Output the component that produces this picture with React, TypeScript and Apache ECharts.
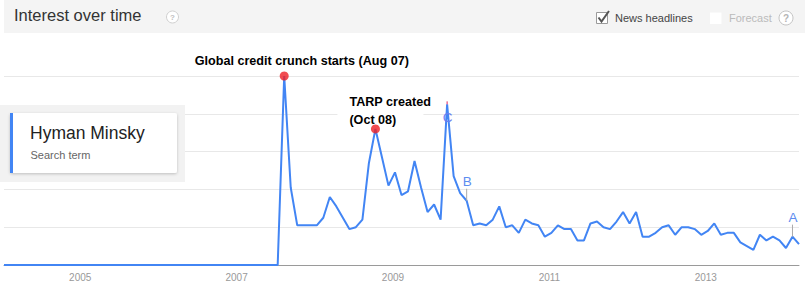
import React, { useEffect, useRef } from "react";
import * as echarts from "echarts";

// Monthly search interest, Jan 2004 .. Mar 2014
const startYear = 2004;
const zeroMonths = 43; // Jan 2004 .. Jul 2007 are all zero
const activeValues = [
  100, 41, 21, 21, 21, 21, 25, 36, 31, 25, 19, 20, 24, 54, 72, 57, 42, 49, 37, 39,
  55, 41, 28, 32, 24, 85, 47, 38, 34, 21, 22, 21, 24, 31, 20, 21, 17, 24, 22, 21,
  15, 17, 21, 19, 19, 13, 13, 22, 23, 20, 19, 23, 28, 22, 28, 15, 15, 17, 20, 21,
  16, 20, 20, 19, 16, 18, 22, 16, 17, 17, 12, 10, 8, 16, 13, 15, 13, 9, 15, 11,
];
const interestValues: number[] = [...new Array(zeroMonths).fill(0), ...activeValues];

const monthCategories: string[] = interestValues.map((_, i) => {
  const y = startYear + Math.floor(i / 12);
  const m = (i % 12) + 1;
  return `${y}-${m < 10 ? "0" + m : m}`;
});

const yearTickLabels = ["2005", "2007", "2009", "2011", "2013"];

// Event annotations (red dots)
const eventMonths = ["2007-08", "2008-10"];
const eventTexts = [["Global credit crunch starts (Aug 07)"], ["TARP created", "(Oct 08)"]];

// News headline flags
const flagMonths = ["2009-09", "2009-12", "2014-02"];
const flagLetters = ["C", "B", "A"];

const FONT = '"Liberation Sans", Arial, sans-serif';

export default function App() {
  const ref = useRef<HTMLDivElement>(null);

  useEffect(() => {
    document.body.style.margin = "0";
    if (!ref.current) return;
    const chart = echarts.init(ref.current, undefined, { renderer: "svg" });

    const eventIdx = eventMonths.map((m) => monthCategories.indexOf(m));
    const flagIdx = flagMonths.map((m) => monthCategories.indexOf(m));

    const option: any = {
      animation: false,
      backgroundColor: "#fff",
      grid: { left: 4, right: 6, top: 76, bottom: 19, containLabel: false },
      xAxis: {
        type: "category",
        data: monthCategories,
        boundaryGap: false,
        axisLine: { lineStyle: { color: "#9a9a9a", width: 1 } },
        axisTick: { show: false },
        splitLine: { show: false },
        axisLabel: {
          interval: (index: number, value: string) =>
            value.endsWith("-01") && yearTickLabels.includes(value.slice(0, 4)),
          formatter: (value: string) => value.slice(0, 4),
          color: "#999",
          fontSize: 10,
          fontFamily: FONT,
          margin: 7,
          padding: [0, 4, 0, 0],
        },
      },
      yAxis: {
        type: "value",
        min: 0,
        max: 100,
        interval: 20,
        axisLine: { show: false },
        axisTick: { show: false },
        axisLabel: { show: false },
        splitLine: { lineStyle: { color: "#e8e8e8", width: 1 } },
      },
      series: [
        {
          type: "line",
          data: interestValues,
          symbol: "none",
          lineStyle: { color: "#4285f4", width: 2 },
          z: 3,
        },
        {
          type: "scatter",
          data: eventIdx.map((i) => [i, interestValues[i]]),
          symbol: "circle",
          symbolSize: 9,
          itemStyle: { color: "#ee1f25" },
          z: 5,
        },
        {
          type: "custom",
          z: 6,
          data: eventIdx.map((i) => [i, interestValues[i]]),
          renderItem: (params: any, api: any) => {
            const p = api.coord([api.value(0), api.value(1)]);
            const lines = eventTexts[params.dataIndex];
            const font = `bold 12.6px ${FONT}`;
            if (lines.length === 1) {
              return {
                type: "text",
                style: {
                  text: lines[0],
                  x: p[0] - 89.5,
                  y: p[1] - 15,
                  align: "left",
                  verticalAlign: "middle",
                  font,
                  fill: "#000",
                },
              };
            }
            return {
              type: "group",
              children: [
                {
                  type: "rect",
                  shape: { x: p[0] - 38, y: p[1] - 21, width: 86, height: 11 },
                  style: { fill: "#fff" },
                },
                {
                  type: "text",
                  style: {
                    text: lines[0],
                    x: p[0] - 26,
                    y: p[1] - 26.5,
                    align: "left",
                    verticalAlign: "middle",
                    font,
                    fill: "#000",
                  },
                },
                {
                  type: "text",
                  style: {
                    text: lines[1],
                    x: p[0] - 26,
                    y: p[1] - 8.5,
                    align: "left",
                    verticalAlign: "middle",
                    font,
                    fill: "#000",
                  },
                },
              ],
            };
          },
        },
        {
          type: "custom",
          z: 7,
          data: flagIdx.map((i) => [i, interestValues[i]]),
          renderItem: (params: any, api: any) => {
            const p = api.coord([api.value(0), api.value(1)]);
            const letter = flagLetters[params.dataIndex];
            const font = `13.5px ${FONT}`;
            if (letter === "C") {
              return {
                type: "group",
                children: [
                  {
                    type: "line",
                    shape: { x1: p[0], y1: p[1] - 3, x2: p[0], y2: p[1] },
                    style: { stroke: "#e0245e", lineWidth: 1 },
                  },
                  {
                    type: "text",
                    style: {
                      text: letter,
                      x: p[0] + 0.5,
                      y: p[1] + 13,
                      align: "center",
                      verticalAlign: "middle",
                      font,
                      fill: "#6a7ff0",
                    },
                  },
                ],
              };
            }
            return {
              type: "group",
              children: [
                {
                  type: "line",
                  shape: { x1: p[0], y1: p[1] - 12, x2: p[0], y2: p[1] },
                  style: { stroke: "#aaa", lineWidth: 1 },
                },
                {
                  type: "text",
                  style: {
                    text: letter,
                    x: p[0] + 0.5,
                    y: p[1] - 19,
                    align: "center",
                    verticalAlign: "middle",
                    font,
                    fill: "#5d8df0",
                  },
                },
              ],
            };
          },
        },
      ],
      graphic: [
        // header band
        { type: "rect", z: 10, shape: { x: 4, y: 0, width: 801, height: 33 }, style: { fill: "#f4f4f4" } },
        {
          type: "text",
          z: 11,
          style: { text: "Interest over time", x: 14, y: 23, verticalAlign: "bottom", font: `16.5px ${FONT}`, fill: "#333" },
        },
        { type: "circle", z: 11, shape: { cx: 172.5, cy: 17, r: 6 }, style: { fill: "#fff", stroke: "#d0d0d0", lineWidth: 1 } },
        {
          type: "text",
          z: 12,
          style: { text: "?", x: 172.5, y: 17.5, align: "center", verticalAlign: "middle", font: `bold 8px ${FONT}`, fill: "#c0c0c0" },
        },
        // News headlines checkbox
        { type: "rect", z: 11, shape: { x: 596.5, y: 12.5, width: 11, height: 11 }, style: { fill: "#fff", stroke: "#9a9a9a", lineWidth: 1 } },
        {
          type: "polyline",
          z: 12,
          shape: { points: [[598.5, 17.5], [601.5, 21.5], [609, 11]] },
          style: { stroke: "#555", lineWidth: 2, fill: "none" },
        },
        {
          type: "text",
          z: 11,
          style: { text: "News headlines", x: 615, y: 18, verticalAlign: "middle", font: `11px ${FONT}`, fill: "#444" },
        },
        // Forecast checkbox
        { type: "rect", z: 11, shape: { x: 710, y: 12.5, width: 11.5, height: 11.5 }, style: { fill: "#fff" } },
        {
          type: "text",
          z: 11,
          style: { text: "Forecast", x: 729, y: 18, verticalAlign: "middle", font: `11px ${FONT}`, fill: "#bbb" },
        },
        { type: "circle", z: 11, shape: { cx: 786, cy: 18, r: 7 }, style: { fill: "#fff", stroke: "#c4c4c4", lineWidth: 1 } },
        {
          type: "text",
          z: 12,
          style: { text: "?", x: 786, y: 18.5, align: "center", verticalAlign: "middle", font: `bold 10px ${FONT}`, fill: "#b5b5b5" },
        },
        // legend panel
        { type: "rect", z: 20, shape: { x: 0, y: 105, width: 185, height: 77 }, style: { fill: "#f2f2f2" } },
        {
          type: "rect",
          z: 21,
          shape: { x: 10, y: 113, width: 167, height: 60, r: 2 },
          style: { fill: "#fff", shadowBlur: 3, shadowOffsetY: 1, shadowColor: "rgba(0,0,0,0.22)" },
        },
        { type: "rect", z: 22, shape: { x: 10, y: 113, width: 3, height: 60 }, style: { fill: "#4285f4" } },
        {
          type: "text",
          z: 22,
          style: { text: "Hyman Minsky", x: 30, y: 142, verticalAlign: "bottom", font: `17.5px ${FONT}`, fill: "#222" },
        },
        {
          type: "text",
          z: 22,
          style: { text: "Search term", x: 30.5, y: 160.5, verticalAlign: "bottom", font: `11px ${FONT}`, fill: "#666" },
        },
      ],
    };

    chart.setOption(option);
    return () => chart.dispose();
  }, []);

  return <div ref={ref} style={{ width: 805, height: 284 }} />;
}
